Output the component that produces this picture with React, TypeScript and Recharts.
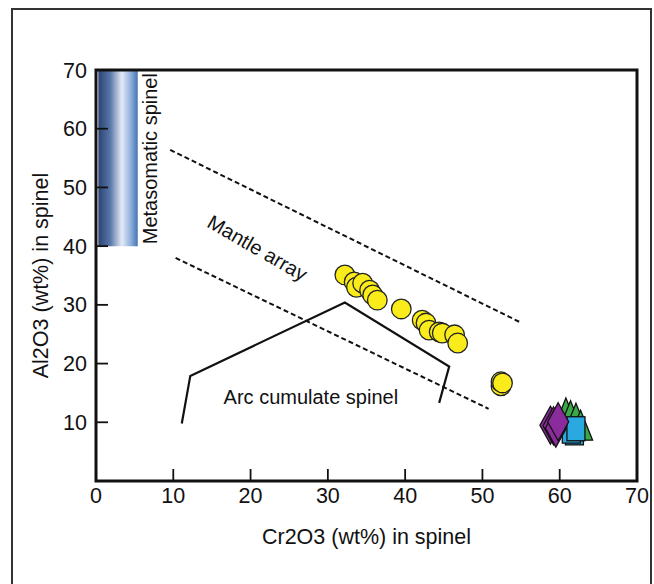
import {
  Label,
  ReferenceArea,
  ReferenceDot,
  Scatter,
  ScatterChart,
  XAxis,
  YAxis,
} from 'recharts'

// Field boundaries (Cr2O3 wt%, Al2O3 wt%)
const mantleArrayUpper = [
  { x: 9.6, y: 56.4 },
  { x: 55.1, y: 26.9 },
]
const mantleArrayLower = [
  { x: 10.3, y: 38.0 },
  { x: 50.8, y: 12.3 },
]
const arcCumulateField = [
  { x: 11.1, y: 9.8 },
  { x: 12.2, y: 17.9 },
  { x: 32.2, y: 30.4 },
  { x: 45.7, y: 19.5 },
  { x: 44.4, y: 13.3 },
]
const metasomaticSpinel = { cr1: 0.3, cr2: 5.4, al1: 40, al2: 70 }

// Spinel analyses
const spinelYellow = [
  { x: 32.2, y: 35.1 },
  { x: 33.4, y: 33.9 },
  { x: 33.7, y: 33.0 },
  { x: 34.5, y: 33.7 },
  { x: 35.4, y: 32.5 },
  { x: 35.8, y: 31.7 },
  { x: 36.4, y: 30.8 },
  { x: 39.5, y: 29.3 },
  { x: 42.2, y: 27.4 },
  { x: 42.7, y: 26.9 },
  { x: 43.1, y: 25.7 },
  { x: 44.4, y: 25.4 },
  { x: 44.8, y: 25.2 },
  { x: 46.4, y: 24.9 },
  { x: 46.8, y: 23.5 },
  { x: 52.4, y: 16.2 },
  { x: 52.4, y: 16.9 },
  { x: 52.6, y: 16.7 },
]
const spinelGreen = [
  { x: 60.8, y: 11.6 },
  { x: 61.4, y: 11.1 },
  { x: 62.1, y: 10.7 },
  { x: 62.7, y: 9.5 },
]
const spinelBlue = [
  { x: 61.9, y: 8.2 },
  { x: 61.5, y: 8.5 },
  { x: 62.1, y: 8.9 },
]
const spinelPurple = [
  { x: 58.8, y: 9.5 },
  { x: 59.2, y: 9.4 },
  { x: 59.5, y: 9.0 },
  { x: 59.8, y: 10.1 },
]

const xTicks = [0, 10, 20, 30, 40, 50, 60, 70]
const yTicks = [10, 20, 30, 40, 50, 60, 70]

const FONT = "'Liberation Sans', Arial, sans-serif"
const INK = '#111'
const TICK_LEN = 12

const noMark = () => <g />

const yellowCircle = (p: any) => (
  <circle cx={p.cx} cy={p.cy} r={9.8} fill="#f9ec1a" stroke="#222" strokeWidth={1.3} />
)
const greenTriangle = (p: any) => (
  <polygon
    points={`${p.cx},${p.cy - 15} ${p.cx + 12},${p.cy + 15} ${p.cx - 12},${p.cy + 15}`}
    fill="#3aaa48"
    stroke="#111"
    strokeWidth={1.3}
  />
)
const blueSquare = (p: any) => (
  <rect x={p.cx - 9} y={p.cy - 12} width={18} height={24} fill="#2aa8e0" stroke="#111" strokeWidth={1.3} />
)
const purpleDiamond = (p: any) => (
  <polygon
    points={`${p.cx},${p.cy - 19} ${p.cx + 10.5},${p.cy} ${p.cx},${p.cy + 19} ${p.cx - 10.5},${p.cy}`}
    fill="#8b2c9c"
    stroke="#111"
    strokeWidth={1.3}
  />
)

export default function App() {
  return (
    <div style={{ position: 'absolute', left: 0, top: 0, width: 654, height: 584, overflow: 'hidden', background: '#fff' }}>
      <div
        style={{
          position: 'absolute',
          left: 11,
          top: 8,
          width: 641,
          height: 620,
          border: '2px solid #333',
          boxSizing: 'border-box',
        }}
      />
      <div style={{ position: 'absolute', left: 0, top: 0 }}>
        <ScatterChart width={654} height={584} margin={{ top: 70, right: 17, bottom: 33, left: 0 }}>
          <defs>
            <linearGradient id="metaGrad" x1="0" y1="0" x2="1" y2="0">
              <stop offset="0%" stopColor="#2a4372" />
              <stop offset="30%" stopColor="#5876a8" />
              <stop offset="60%" stopColor="#e4ebf6" />
              <stop offset="82%" stopColor="#8fb0dc" />
              <stop offset="100%" stopColor="#4474b4" />
            </linearGradient>
          </defs>
          <XAxis
            type="number"
            dataKey="x"
            domain={[0, 70]}
            ticks={xTicks}
            interval={0}
            height={70}
            axisLine={false}
            stroke={INK}
            tickLine={{ stroke: INK, strokeWidth: 1.8 }}
            tickSize={-TICK_LEN}
            tickMargin={TICK_LEN + 7}
            tick={{ fontSize: 21.5, fontFamily: FONT, fill: INK }}
          >
            <Label
              value="Cr2O3 (wt%) in spinel"
              position="insideBottom"
              offset={7}
              style={{ fontSize: 21.5, fontFamily: FONT, fill: INK }}
            />
          </XAxis>
          <YAxis
            type="number"
            dataKey="y"
            domain={[0, 70]}
            ticks={yTicks}
            interval={0}
            width={96}
            axisLine={false}
            stroke={INK}
            tickLine={{ stroke: INK, strokeWidth: 1.8 }}
            tickSize={-TICK_LEN}
            tickMargin={TICK_LEN + 9}
            tick={{ fontSize: 21.5, fontFamily: FONT, fill: INK }}
          >
            <Label
              value="Al2O3 (wt%) in spinel"
              angle={-90}
              position="insideLeft"
              offset={40}
              style={{ fontSize: 21.5, fontFamily: FONT, fill: INK, textAnchor: 'middle' }}
            />
          </YAxis>

          <ReferenceArea
            x1={metasomaticSpinel.cr1}
            x2={metasomaticSpinel.cr2}
            y1={metasomaticSpinel.al1}
            y2={metasomaticSpinel.al2}
            fill="url(#metaGrad)"
            fillOpacity={1}
            stroke="none"
          />
          <ReferenceArea x1={0} x2={70} y1={0} y2={70} fill="none" stroke={INK} strokeWidth={3} />

          <Scatter
            data={mantleArrayUpper}
            shape={noMark}
            line={{ stroke: INK, strokeWidth: 2, strokeDasharray: '5 3' }}
            isAnimationActive={false}
          />
          <Scatter
            data={mantleArrayLower}
            shape={noMark}
            line={{ stroke: INK, strokeWidth: 2, strokeDasharray: '5 3' }}
            isAnimationActive={false}
          />
          <Scatter
            data={arcCumulateField}
            shape={noMark}
            line={{ stroke: INK, strokeWidth: 2.2 }}
            isAnimationActive={false}
          />

          <Scatter data={spinelYellow} shape={yellowCircle} isAnimationActive={false} />
          <Scatter data={spinelGreen} shape={greenTriangle} isAnimationActive={false} />
          <Scatter data={spinelBlue} shape={blueSquare} isAnimationActive={false} />
          <Scatter data={spinelPurple} shape={purpleDiamond} isAnimationActive={false} />

          <ReferenceDot x={7.0} y={54.9} r={0} stroke="none" fill="none">
            <Label
              value="Metasomatic spinel"
              angle={-90}
              position="center"
              style={{ fontSize: 20, fontFamily: FONT, fill: INK }}
            />
          </ReferenceDot>
          <ReferenceDot x={20.9} y={39.7} r={0} stroke="none" fill="none">
            <Label
              value="Mantle array"
              angle={30}
              position="center"
              style={{ fontSize: 20, fontFamily: FONT, fill: INK }}
            />
          </ReferenceDot>
          <ReferenceDot x={27.8} y={14.3} r={0} stroke="none" fill="none">
            <Label
              value="Arc cumulate spinel"
              position="center"
              style={{ fontSize: 20, fontFamily: FONT, fill: INK }}
            />
          </ReferenceDot>
        </ScatterChart>
      </div>
    </div>
  )
}
